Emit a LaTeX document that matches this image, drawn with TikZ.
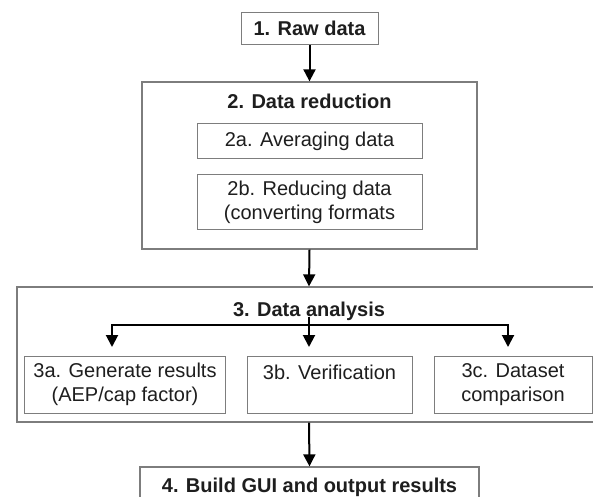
\documentclass[tikz,border=0pt]{standalone}
\usepackage{fontspec}
\setmainfont{Liberation Sans}
\usetikzlibrary{positioning,arrows.meta}
\usepackage{xcolor}
\definecolor{boxgray}{RGB}{125,125,125}
\definecolor{txtgray}{RGB}{30,30,30}

\begin{document}
\begin{tikzpicture}[x=1bp,y=-1bp,>={Triangle[width=12bp,length=12bp]},
  body/.style={font=\fontsize{20bp}{24bp}\selectfont,text=txtgray},
  head/.style={font=\fontsize{20bp}{24bp}\selectfont\bfseries,text=txtgray},
  box/.style={draw=boxgray,line width=1bp,inner sep=0pt,align=center},
  frame/.style={draw=boxgray,line width=1.3bp,inner sep=0pt},
  arr/.style={->,line width=2bp}]
\clip (0,0) rectangle (593,497);
\fill[white] (0,0) rectangle (593,497);
% step 1
\node[box,head,minimum width=137bp,minimum height=32bp] (raw) at (309.5,28.5) {1. Raw data};
% step 2
\node[frame,minimum width=335bp,minimum height=167bp] (red) at (309.5,165.5) {};
\node[head,anchor=base] (redt) at (309.5,109) {2. Data reduction};
\node[box,body,minimum width=225bp,minimum height=35bp] (avg) at (309.5,141.5) {2a. Averaging data};
\node[box,body,minimum width=225bp,minimum height=54bp] (conv) at (309.5,202) {2b. Reducing data\\(converting formats};
% step 3
\node[frame,minimum width=584bp,minimum height=135bp] (ana) at (309,354.5) {};
\node[head,anchor=base] (anat) at (309,316) {3. Data analysis};
\node[box,body,minimum width=200bp,minimum height=57bp] (gen) at (125,384.5) {3a. Generate results\\(AEP/cap factor)};
\node[box,body,minimum width=165bp,minimum height=57bp] (ver) at (329.5,384.5) {3b. Verification\\\mbox{}};
\node[box,body,minimum width=158bp,minimum height=57bp] (cmp) at (513,384.5) {3c. Dataset\\comparison};
% step 4
\node[box,head,line width=1.3bp,minimum width=339bp,minimum height=40bp] (gui) at (309.5,487) {4. Build GUI and output results};
% arrows
\draw[arr] (raw.south) -- (red.north);
\draw[arr] (red.south) -- (ana.north);
\draw[arr] (ana.south) -- (gui.north);
\coordinate (fork) at (309,317);
\coordinate (bar) at (309,325);
\coordinate (ta) at (112,347);
\coordinate (tb) at (309,347);
\coordinate (tc) at (508,347);
\draw[arr] (fork) -- (tb);
\draw[arr] (bar) -| (ta);
\draw[arr] (bar) -| (tc);
\end{tikzpicture}
\end{document}
